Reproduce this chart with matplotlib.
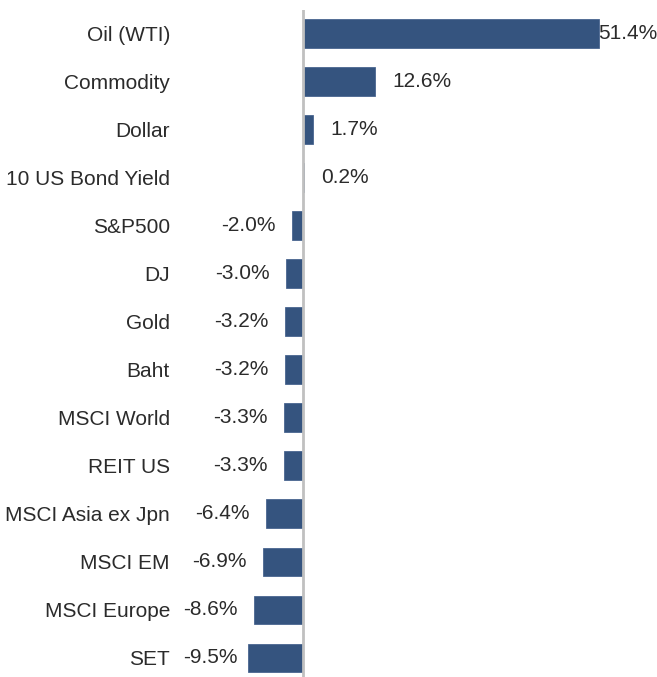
import matplotlib
matplotlib.use("Agg")
import matplotlib.pyplot as plt
from matplotlib.transforms import offset_copy

categories = ["Oil (WTI)", "Commodity", "Dollar", "10 US Bond Yield", "S&P500", "DJ",
              "Gold", "Baht", "MSCI World", "REIT US", "MSCI Asia ex Jpn", "MSCI EM",
              "MSCI Europe", "SET"]
values = [51.4, 12.6, 1.7, 0.2, -2.0, -3.0, -3.2, -3.2, -3.3, -3.3, -6.4, -6.9, -8.6, -9.5]
labels = ["51.4%", "12.6%", "1.7%", "0.2%", "-2.0%", "-3.0%", "-3.2%", "-3.2%", "-3.3%",
          "-3.3%", "-6.4%", "-6.9%", "-8.6%", "-9.5%"]

plt.rcParams['font.family'] = ['Liberation Sans', 'DejaVu Sans']

W, H = 657, 677
dpi = 100
fig = plt.figure(figsize=(W / dpi, H / dpi), dpi=dpi)
ax_left, ax_right = 180, 600
ax_top, ax_bot = 9.5, 677
ax = fig.add_axes([ax_left / W, 1 - ax_bot / H, (ax_right - ax_left) / W, (ax_bot - ax_top) / H])

bar_color = "#35547F"
text_color = "#2B2B2B"
y = list(range(len(categories)))
ax.barh(y, values, height=0.6, color=bar_color, edgecolor="#4A6690", linewidth=0.6, zorder=2)

scale = 5.75
ax.set_xlim(-(303 - ax_left) / scale, (ax_right - 303) / scale)
ax.set_ylim(13 + (677 - 658) / 48.0, -0.5)

ax.axvline(0, color="#C0C0C0", linewidth=2, zorder=3)

for s in ax.spines.values():
    s.set_visible(False)
ax.set_xticks([])
ax.set_yticks(y)
ax.set_yticklabels(categories, fontsize=15, color=text_color)
ax.tick_params(axis='y', length=0, pad=7.2)

for i, (v, lab) in enumerate(zip(values, labels)):
    if v >= 0:
        off = 0 if i == 0 else 12.5
        tr = offset_copy(ax.transData, fig=fig, x=off, y=0, units='points')
        ax.text(v, i, lab, transform=tr, ha='left', va='center', fontsize=15,
                color=text_color, clip_on=False, zorder=4)
    else:
        off = 7.5 if i == len(values) - 1 else 11.7
        tr = offset_copy(ax.transData, fig=fig, x=-off, y=0, units='points')
        ax.text(v, i, lab, transform=tr, ha='right', va='center', fontsize=15,
                color=text_color, clip_on=False, zorder=4)

fig.savefig("out.png", dpi=dpi, facecolor="white")
